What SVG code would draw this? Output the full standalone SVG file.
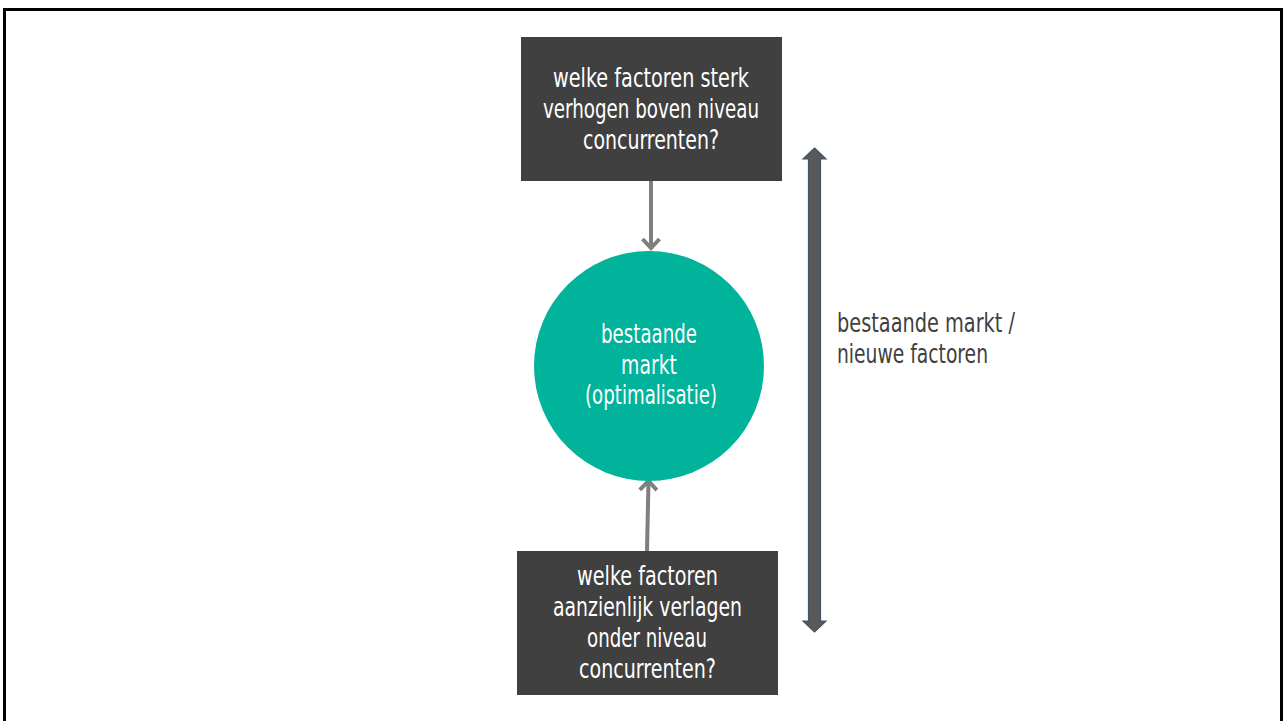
<svg xmlns="http://www.w3.org/2000/svg" width="1287" height="721" viewBox="0 0 1287 721">
  <defs>
    <style>
      .box { fill: #404040; }
      .t { font-family: "DejaVu Sans Condensed", "Liberation Sans", sans-serif; font-size: 26.5px; text-anchor: middle; }
      .w { fill: #ffffff; }
      .d { fill: #404040; text-anchor: start; }
      .conn { stroke: #7f7f7f; stroke-width: 4; fill: none; }
    </style>
    <marker id="chev" viewBox="0 0 20 20" refX="17" refY="10" markerWidth="20" markerHeight="20" markerUnits="userSpaceOnUse" orient="auto">
      <path d="M8,1.5 L17,10 L8,18.5" fill="none" stroke="#7f7f7f" stroke-width="4"/>
    </marker>
  </defs>
  <rect x="0" y="0" width="1287" height="721" fill="#ffffff"/>
  <rect x="4.5" y="9.5" width="1277" height="720" fill="none" stroke="#000000" stroke-width="3"/>

  <g id="connectors">
    <path class="conn" d="M651,181 L651,248" marker-end="url(#chev)"/>
    <path class="conn" d="M647,551 L648.5,481" marker-end="url(#chev)"/>
    <path id="double-arrow" d="M814.5,148 L826,159 L820.5,159 L820.5,621 L826,621 L814.5,632 L803,621 L808.5,621 L808.5,159 L803,159 Z" fill="#595959" stroke="#44546A" stroke-width="1.2" stroke-linejoin="miter"/>
  </g>

  <g id="top-box">
    <rect class="box" x="521" y="37" width="261" height="144"/>
    <text class="t w" x="651" y="87" textLength="196" lengthAdjust="spacingAndGlyphs">welke factoren sterk</text>
    <text class="t w" x="651" y="118" textLength="216" lengthAdjust="spacingAndGlyphs">verhogen boven niveau</text>
    <text class="t w" x="651" y="149" textLength="136" lengthAdjust="spacingAndGlyphs">concurrenten?</text>
  </g>

  <g id="circle-node">
    <circle cx="649" cy="366" r="115" fill="#00B39A"/>
    <text class="t w" x="649" y="343" textLength="96" lengthAdjust="spacingAndGlyphs">bestaande</text>
    <text class="t w" x="649" y="374" textLength="56" lengthAdjust="spacingAndGlyphs">markt</text>
    <text class="t w" x="651" y="404" textLength="132" lengthAdjust="spacingAndGlyphs">(optimalisatie)</text>
  </g>

  <g id="bottom-box">
    <rect class="box" x="517" y="551" width="261" height="144"/>
    <text class="t w" x="647.5" y="585" textLength="141" lengthAdjust="spacingAndGlyphs">welke factoren</text>
    <text class="t w" x="647.5" y="616" textLength="189" lengthAdjust="spacingAndGlyphs">aanzienlijk verlagen</text>
    <text class="t w" x="647" y="647" textLength="120" lengthAdjust="spacingAndGlyphs">onder niveau</text>
    <text class="t w" x="647.5" y="678" textLength="137" lengthAdjust="spacingAndGlyphs">concurrenten?</text>
  </g>

  <g id="side-label">
    <text class="t d" x="837" y="332" textLength="178" lengthAdjust="spacingAndGlyphs">bestaande markt /</text>
    <text class="t d" x="837" y="363" textLength="151" lengthAdjust="spacingAndGlyphs">nieuwe factoren</text>
  </g>
</svg>
